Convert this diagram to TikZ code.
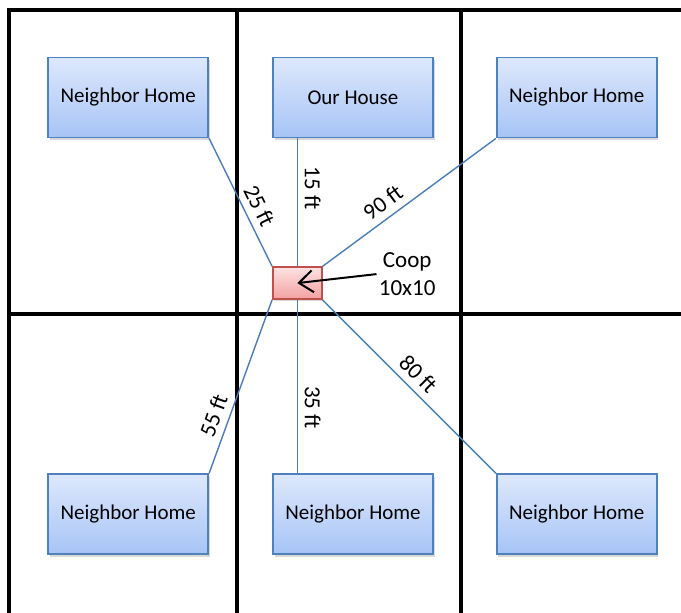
\documentclass[tikz,border=0pt]{standalone}
\usepackage{fontspec}
\setmainfont{Carlito}
\usetikzlibrary{positioning,shadows,arrows.meta}
\definecolor{homeline}{HTML}{4F81BD}
\definecolor{hometop}{HTML}{DDE8FC}
\definecolor{homebot}{HTML}{A7C4F6}
\definecolor{cooptop}{HTML}{FDE3E3}
\definecolor{coopbot}{HTML}{F3A0A0}
\definecolor{coopline}{HTML}{C0504D}
\definecolor{distline}{HTML}{4A7EBB}
\tikzset{
  home/.style={rectangle, draw=homeline, line width=0.9pt, top color=hometop, bottom color=homebot, minimum width=80pt, minimum height=40pt, inner sep=0pt, drop shadow={shadow xshift=0.8pt, shadow yshift=-1.5pt, opacity=0.3}, font=\fontsize{10.5}{12.6}\selectfont},
  coop/.style={rectangle, draw=coopline, line width=0.7pt, top color=cooptop, bottom color=coopbot, minimum width=24.5pt, minimum height=16pt, inner sep=0pt, drop shadow={shadow xshift=0.8pt, shadow yshift=-1.2pt, opacity=0.3}},
  wall/.style={line width=2pt, black},
  connect/.style={distline, line width=0.7pt},
  dist/.style={sloped, above, text=black, font=\fontsize{11.5}{14}\selectfont},
  pointer/.style={-{Straight Barb[length=7pt,width=11pt]}, line width=1pt}
}

\begin{document}
\begin{tikzpicture}[x=0.5pt, y=-0.5pt]
  \useasboundingbox (0,0) rectangle (681,613);

  % Grid
  \draw[wall] (681,10) -- (9,10) -- (9,613);
  \draw[wall] (237,10) -- (237,613);
  \draw[wall] (461,10) -- (461,613);
  \draw[wall] (9,314) -- (681,314);

  % Homes
  \node[home] (house) at (353,97.5) {Our House};
  \node[home] (nw) [left=31.5pt of house] {Neighbor Home};
  \node[home] (ne) [right=31pt of house] {Neighbor Home};
  \node[home] (sw) [below=167.5pt of nw] {Neighbor Home};
  \node[home] (s) [below=167.5pt of house] {Neighbor Home};
  \node[home] (se) [below=167.5pt of ne] {Neighbor Home};

  % Coop
  \node[coop] (coop) [below right=64pt and 0pt of house.south west] {};
  \node[align=center, inner sep=1pt, font=\fontsize{11.5}{14}\selectfont] (cooplabel) [right=27pt of coop, yshift=4.5pt] {Coop\\10x10};
  \draw[pointer] (cooplabel.west) -- (coop.center);

  % Distances
  \draw[connect] (nw.south east) -- node[dist, pos=0.58] {25 ft} (coop.north west);
  \draw[connect] (house.south -| coop.north) -- node[dist, pos=0.39] {15 ft} (coop.north);
  \draw[connect] (coop.north east) -- node[dist, pos=0.4] {90 ft} (ne.south west);
  \draw[connect] (sw.north east) -- node[dist, pos=0.3] {55 ft} (coop.south west);
  \draw[connect] (coop.south) -- node[dist, pos=0.62] {35 ft} (s.north -| coop.south);
  \draw[connect] (coop.south east) -- node[dist, pos=0.49] {80 ft} (se.north west);
\end{tikzpicture}
\end{document}
